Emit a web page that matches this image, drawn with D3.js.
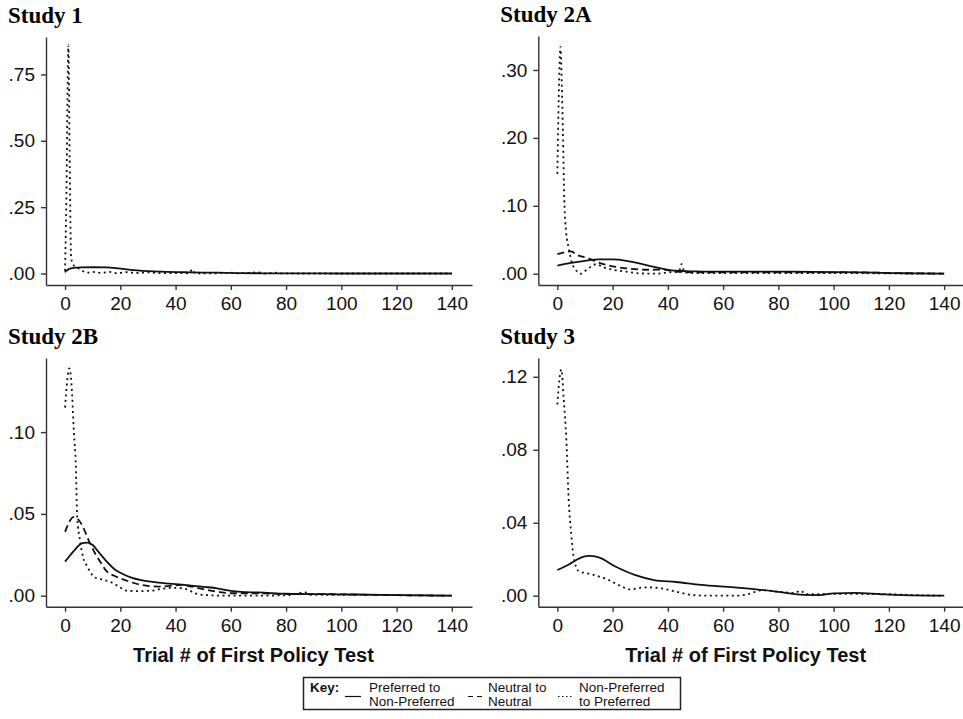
<!DOCTYPE html>
<html>
<head>
<meta charset="utf-8">
<script src="https://cdn.jsdelivr.net/npm/d3@7"></script>
<style>
  body { margin: 0; background: #fff; }
  svg { display: block; }
</style>
</head>
<body>
<svg id="chart" width="963" height="719"></svg>
<script>
// density curves, [trial, density]
const study1Preferred = [[0,0.004],[0.3,0.0095],[3,0.021],[6,0.023],[10,0.0235],[15,0.023],[20,0.018],[27,0.011],[35,0.007],[45,0.0045],[55,0.003],[63,0.0015],[72,0.0008],[85,0.0003],[100,0.0001],[140,0]];
const study1Neutral = [];
const study1NonPreferred = [[0,0.01],[0.5,0.3],[1.2,0.86],[1.7,0.4],[2.2,0.06],[3,0.032],[4,0.026],[6,0.012],[8,0.003],[10,0.006],[13,0.002],[16,0.006],[19,0.001],[22,0.005],[26,0.002],[30,0.004],[35,0.001],[40,0.002],[45,0.001],[46,0.016],[47,0.001],[55,0.001],[60,0.003],[62,0.0005],[70,0.004],[72,0.0005],[76,0.003],[78,0.0005],[90,0],[140,0]];

const study2APreferred = [[0,0.012],[5,0.016],[10,0.019],[15,0.021],[20,0.021],[25,0.019],[30,0.015],[35,0.01],[40,0.0058],[45,0.004],[50,0.0035],[60,0.003],[80,0.003],[100,0.0025],[110,0.002],[120,0.001],[130,0.0005],[140,0]];
const study2ANeutral = [[0,0.029],[3,0.032],[5,0.033],[7,0.028],[11,0.023],[16,0.015],[22,0.0095],[28,0.0068],[34,0.0058],[38,0.0062],[43,0.003],[50,0.002],[80,0.0022],[110,0.0018],[125,0.0008],[140,0]];
const study2ANonPreferred = [[0,0.147],[0.5,0.26],[1.1,0.334],[1.6,0.28],[2,0.21],[2.5,0.11],[3.2,0.06],[4,0.04],[5.3,0.016],[7,0.004],[8.5,0],[10,0.004],[12,0.01],[14,0.014],[17,0.009],[20,0.006],[25,0.003],[30,0.0005],[36,0],[40,0.002],[44,0.003],[45,0.014],[46,0.002],[50,0.001],[100,0.001],[120,0.0005],[140,0]];

const study2BPreferred = [[0,0.0208],[2,0.025],[4,0.029],[6,0.032],[8,0.0325],[10,0.031],[12,0.027],[15,0.021],[18,0.016],[20,0.014],[24,0.011],[28,0.0093],[33,0.0082],[39,0.0072],[45,0.0063],[51,0.0053],[55,0.0045],[60,0.003],[65,0.0022],[70,0.002],[80,0.0012],[100,0.0008],[110,0.0006],[120,0.0003],[140,0]];
const study2BNeutral = [[0,0.039],[1.5,0.045],[3,0.048],[4.5,0.047],[6.5,0.042],[8.5,0.034],[10.5,0.027],[13,0.02],[15,0.015],[18,0.012],[21,0.01],[27,0.0068],[34,0.0056],[38,0.006],[42,0.0066],[46,0.0055],[51,0.0037],[56,0.0022],[60,0.0015],[70,0.0015],[80,0.001],[90,0.001],[100,0.0008],[120,0.0003],[140,0]];
const study2BNonPreferred = [[0,0.115],[0.8,0.132],[1.5,0.139],[2.3,0.13],[3.2,0.1],[3.9,0.079],[4.4,0.048],[5.3,0.035],[6.6,0.023],[8,0.018],[9,0.0147],[11,0.011],[14,0.0097],[17,0.008],[20,0.005],[22.5,0.003],[27,0.0028],[31,0.003],[35,0.0042],[40,0.0048],[44,0.004],[47,0.0015],[50,0.0005],[60,0],[80,0.0002],[87,0.002],[89,0.0005],[100,0.0005],[140,0]];

const study3Preferred = [[0,0.0141],[4,0.017],[8,0.0205],[11.3,0.0218],[15,0.021],[21,0.016],[28,0.0114],[35,0.0086],[43,0.0075],[52,0.0059],[64,0.0046],[72,0.0035],[78,0.0025],[84,0.0013],[90,0.0004],[95,0.0003],[100,0.0013],[108,0.0015],[117,0.0008],[125,0.0003],[140,0]];
const study3Neutral = [];
const study3NonPreferred = [[0,0.1048],[0.7,0.118],[1.45,0.124],[2.3,0.108],[3.25,0.0855],[4.1,0.0526],[5,0.034],[5.9,0.0214],[7.7,0.0135],[11,0.0122],[14,0.011],[18.5,0.0086],[22,0.006],[26.4,0.0035],[31.8,0.0046],[37.8,0.004],[43,0.0022],[48.7,0.0004],[55,0],[65,0],[69,0.0008],[74,0.003],[80,0.0022],[86,0.0015],[88,0.0028],[90,0.0008],[100,0.001],[120,0.0008],[130,0.0003],[140,0]];

const xTicks = [0, 20, 40, 60, 80, 100, 120, 140];
const study1Ticks = [0, 0.25, 0.5, 0.75];
const study2ATicks = [0, 0.1, 0.2, 0.3];
const study2BTicks = [0, 0.05, 0.1];
const study3Ticks = [0, 0.04, 0.08, 0.12];

const keyLabels = [["Preferred to", "Non-Preferred"], ["Neutral to", "Neutral"], ["Non-Preferred", "to Preferred"]];

const panels = [
  { title: "Study 1", left: 46, top: 37, bottom: 285, yMin: -0.0433, yMax: 0.891, ticks: study1Ticks,
    series: [study1Preferred, study1Neutral, study1NonPreferred], xTitle: false },
  { title: "Study 2A", left: 538.3, top: 36, bottom: 285, yMin: -0.0166, yMax: 0.35, ticks: study2ATicks,
    series: [study2APreferred, study2ANeutral, study2ANonPreferred], xTitle: false },
  { title: "Study 2B", left: 46, top: 358, bottom: 606.7, yMin: -0.00673, yMax: 0.1453, ticks: study2BTicks,
    series: [study2BPreferred, study2BNeutral, study2BNonPreferred], xTitle: true },
  { title: "Study 3", left: 538.3, top: 358, bottom: 606.7, yMin: -0.00603, yMax: 0.1303, ticks: study3Ticks,
    series: [study3Preferred, study3Neutral, study3NonPreferred], xTitle: true }
];

const dashes = [null, "7,4", "2,3.5"];
const fmt = (d) => d3.format(".2f")(d).replace(/^0\./, ".");

const svg = d3.select("#chart");

panels.forEach((p) => {
  const g = svg.append("g");

  const x = d3.scaleLinear().domain([-6.9, 147.3]).range([p.left, p.left + 426]);
  const y = d3.scaleLinear().domain([p.yMin, p.yMax]).range([p.bottom, p.top]);

  g.append("text")
    .attr("x", p.left - 38)
    .attr("y", p.top - 14)
    .attr("font-family", "'Liberation Serif', 'Times New Roman', serif")
    .attr("font-weight", "bold")
    .attr("font-size", 23)
    .text(p.title);

  const xAxis = g.append("g")
    .attr("transform", `translate(0,${p.bottom})`)
    .call(d3.axisBottom(x).tickValues(xTicks).tickSize(5).tickPadding(7).tickSizeOuter(0));

  const yAxis = g.append("g")
    .attr("transform", `translate(${p.left},0)`)
    .call(d3.axisLeft(y).tickValues(p.ticks).tickFormat(fmt).tickSize(5).tickPadding(6).tickSizeOuter(0));

  [xAxis, yAxis].forEach((a) => {
    a.selectAll("path, line").attr("stroke", "#333").attr("stroke-width", 1.4);
    a.selectAll("text")
      .attr("fill", "#111")
      .attr("font-family", "'Liberation Sans', Arial, sans-serif")
      .attr("font-size", 19);
  });

  const line = d3.line()
    .x((d) => x(d[0]))
    .y((d) => y(d[1]))
    .curve(d3.curveMonotoneX);

  p.series.forEach((s, i) => {
    if (!s.length) return;
    g.append("path")
      .datum(s)
      .attr("d", line)
      .attr("fill", "none")
      .attr("stroke", "#111")
      .attr("stroke-width", 1.8)
      .attr("stroke-dasharray", dashes[i]);
  });

  if (p.xTitle) {
    g.append("text")
      .attr("x", (x(0) + x(140)) / 2 - 5)
      .attr("y", 662)
      .attr("text-anchor", "middle")
      .attr("font-family", "'Liberation Sans', Arial, sans-serif")
      .attr("font-weight", "bold")
      .attr("font-size", 20)
      .attr("fill", "#111")
      .text("Trial # of First Policy Test");
  }
});

// key box
const key = svg.append("g").attr("font-family", "'Liberation Sans', Arial, sans-serif").attr("font-size", 13.5).attr("fill", "#111");
key.append("rect")
  .attr("x", 303.5).attr("y", 677.5).attr("width", 377).attr("height", 32)
  .attr("fill", "#fff").attr("stroke", "#222").attr("stroke-width", 1.5);
key.append("text").attr("x", 310).attr("y", 692).attr("font-weight", "bold").text("Key:");

const keyX = [[345, 369], [468, 488], [558, 579]];
keyLabels.forEach((lab, i) => {
  key.append("line")
    .attr("x1", keyX[i][0]).attr("x2", keyX[i][0] + 16)
    .attr("y1", 696.5).attr("y2", 696.5)
    .attr("stroke", "#111").attr("stroke-width", 1.2)
    .attr("stroke-dasharray", i === 1 ? "5,4" : i === 2 ? "1.5,2.5" : null);
  key.append("text").attr("x", keyX[i][1]).attr("y", 692).text(lab[0]);
  key.append("text").attr("x", keyX[i][1]).attr("y", 706).text(lab[1]);
});
</script>
</body>
</html>
